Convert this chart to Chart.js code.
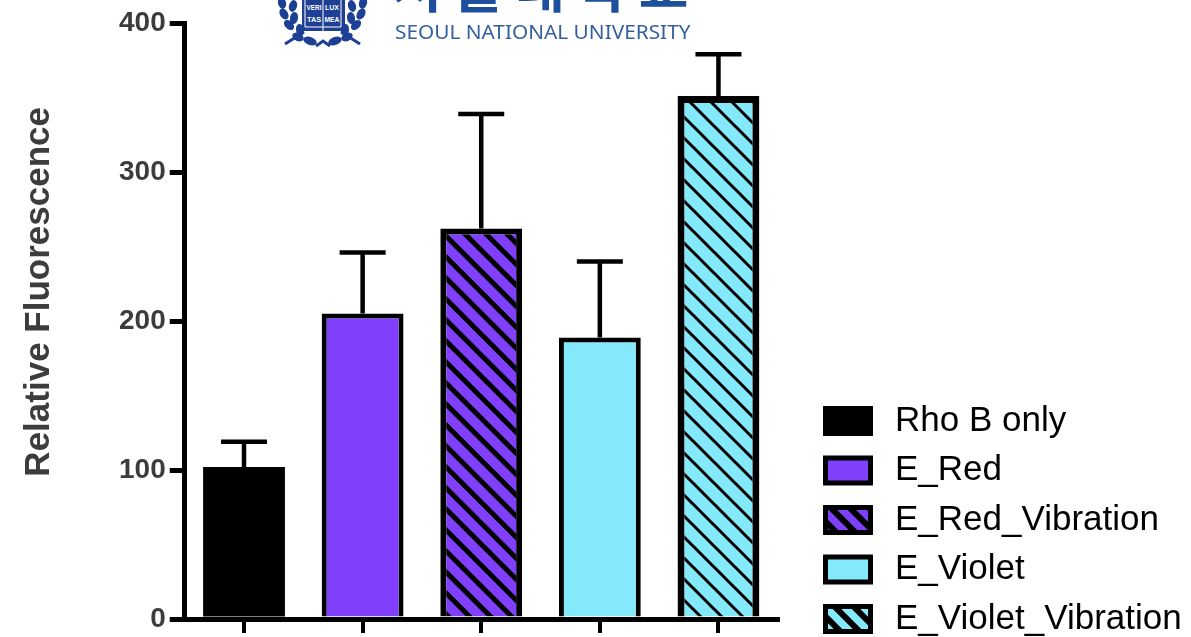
<!DOCTYPE html>
<html>
<head>
<meta charset="utf-8">
<script src="https://cdn.jsdelivr.net/npm/chart.js@4"></script>
<style>
  html, body { margin: 0; padding: 0; background: #fff; overflow: hidden; }
  #wrap { position: relative; width: 1191px; height: 637px; overflow: hidden; }
  #barChart { position: absolute; left: 0; top: 0; }
  #seal { position: absolute; left: 278px; top: 0; }
  #krName { position: absolute; left: 392px; top: -55px; font: 700 54px "Noto Sans CJK KR"; letter-spacing: 12px; color: #1d4f9c; white-space: nowrap; }
  #enName { position: absolute; left: 395px; top: 17px; font: 20.8px "Noto Sans"; color: #35609f; white-space: nowrap; }
</style>
</head>
<body>
<div id="wrap">
  <canvas id="barChart" width="1191" height="637"></canvas>
  <svg id="seal" width="90" height="50" viewBox="0 0 90 50">
    <g fill="#1d3f94">
      <ellipse cx="4" cy="3" rx="4" ry="6" transform="rotate(-15 4 3)"/>
      <ellipse cx="15" cy="6" rx="4" ry="6" transform="rotate(15 15 6)"/>
      <ellipse cx="6" cy="14" rx="4" ry="6" transform="rotate(-30 6 14)"/>
      <ellipse cx="16" cy="18" rx="4" ry="6" transform="rotate(10 16 18)"/>
      <ellipse cx="11" cy="25" rx="4" ry="6" transform="rotate(-45 11 25)"/>
      <ellipse cx="22" cy="30" rx="4" ry="6" transform="rotate(-10 22 30)"/>
      <ellipse cx="20" cy="37" rx="4" ry="6" transform="rotate(-65 20 37)"/>
      <ellipse cx="32" cy="41" rx="4" ry="7" transform="rotate(-70 32 41)"/>
      <ellipse cx="85" cy="3" rx="4" ry="6" transform="rotate(15 85 3)"/>
      <ellipse cx="74" cy="6" rx="4" ry="6" transform="rotate(-15 74 6)"/>
      <ellipse cx="83" cy="14" rx="4" ry="6" transform="rotate(30 83 14)"/>
      <ellipse cx="73" cy="18" rx="4" ry="6" transform="rotate(-10 73 18)"/>
      <ellipse cx="78" cy="25" rx="4" ry="6" transform="rotate(45 78 25)"/>
      <ellipse cx="67" cy="30" rx="4" ry="6" transform="rotate(10 67 30)"/>
      <ellipse cx="69" cy="37" rx="4" ry="6" transform="rotate(65 69 37)"/>
      <ellipse cx="57" cy="41" rx="4" ry="7" transform="rotate(70 57 41)"/>
      <rect x="24" y="0" width="43" height="31"/>
    </g>
    <path d="M7 44 L26 32 M82 44 L63 32" stroke="#1d3f94" stroke-width="3" fill="none"/>
    <path d="M38 46 L45 41 L52 46" stroke="#1d3f94" stroke-width="3" fill="none"/>
    <path d="M27 0 V27 H63 V0 M45 0 V31" stroke="#fff" stroke-width="1" fill="none"/>
    <g font-family="Liberation Sans Narrow, Liberation Sans" font-size="8" font-weight="700" fill="#fff" text-anchor="middle">
      <text x="36" y="10" textLength="15" lengthAdjust="spacingAndGlyphs">VERI</text>
      <text x="54" y="10" textLength="14" lengthAdjust="spacingAndGlyphs">LUX</text>
      <text x="36" y="22" textLength="14" lengthAdjust="spacingAndGlyphs">TAS</text>
      <text x="54" y="22" textLength="15" lengthAdjust="spacingAndGlyphs">MEA</text>
    </g>
  </svg>
  <div id="krName">서울대학교</div>
  <div id="enName">SEOUL NATIONAL UNIVERSITY</div>
</div>
<script>
const categories = ['Rho B only', 'E_Red', 'E_Red_Vibration', 'E_Violet', 'E_Violet_Vibration'];
const means = [102, 205, 262, 189, 351];
const errorTops = [119, 246, 339, 240, 379];
const fillColors = ['#000000', '#7f3ffb', '#7f3ffb', '#84e9fb', '#84e9fb'];
const hatchWidths = [0, 0, 5, 0, 3];
const borderWidths = [0, 5, 6, 5, 7];
const yTicks = [0, 100, 200, 300, 400];

const textColor = '#3c3c3c';

function makeHatch(color, size, lineWidth) {
  const c = document.createElement('canvas');
  c.width = size;
  c.height = size;
  const g = c.getContext('2d');
  g.fillStyle = color;
  g.fillRect(0, 0, size, size);
  g.strokeStyle = '#000';
  g.lineWidth = lineWidth;
  g.beginPath();
  g.moveTo(-size, 0);
  g.lineTo(size, size * 2);
  g.moveTo(0, 0);
  g.lineTo(size, size);
  g.moveTo(0, -size);
  g.lineTo(size * 2, size);
  g.stroke();
  return g.createPattern(c, 'repeat');
}

const barFills = fillColors.map((col, i) => hatchWidths[i] ? makeHatch(col, 21, hatchWidths[i]) : col);
const legendFills = fillColors.map((col, i) => hatchWidths[i] ? makeHatch(col, 19, 6) : col);

const errorBars = {
  id: 'errorBars',
  afterDatasetsDraw(chart) {
    const { ctx, scales } = chart;
    const meta = chart.getDatasetMeta(0);
    ctx.save();
    ctx.strokeStyle = '#000';
    ctx.lineWidth = 4.5;
    errorTops.forEach((top, i) => {
      const x = meta.data[i].x;
      const yTop = scales.y.getPixelForValue(top);
      const yBar = scales.y.getPixelForValue(means[i]);
      ctx.beginPath();
      ctx.moveTo(x, yBar);
      ctx.lineTo(x, yTop);
      ctx.moveTo(x - 23, yTop);
      ctx.lineTo(x + 23, yTop);
      ctx.stroke();
    });
    ctx.restore();
  }
};

// the legend sits low and runs into the bottom edge, so move it after layout
const moveLegend = {
  id: 'moveLegend',
  afterLayout(chart) {
    const legend = chart.legend;
    legend.left = 811;
    legend.right = 1191;
    legend.width = 380;
    legend.bottom = 651;
  }
};

new Chart(document.getElementById('barChart').getContext('2d'), {
  type: 'bar',
  data: {
    labels: categories,
    datasets: [{
      data: means,
      backgroundColor: barFills,
      borderColor: '#000',
      borderWidth: borderWidths,
      barPercentage: 0.69,
      categoryPercentage: 1
    }]
  },
  options: {
    responsive: false,
    animation: false,
    devicePixelRatio: 1,
    layout: { padding: { top: 23, left: 18, bottom: 4, right: 160 } },
    plugins: {
      tooltip: { enabled: false },
      legend: {
        position: 'right',
        align: 'end',
        onClick: null,
        labels: {
          boxWidth: 45,
          boxHeight: 25,
          padding: 14.5,
          color: textColor,
          font: { family: 'Liberation Sans', size: 35 },
          generateLabels: () => categories.map((name, i) => ({
            text: '\u2009' + name,
            fillStyle: legendFills[i],
            strokeStyle: '#000',
            lineWidth: 5,
            datasetIndex: 0,
            index: i
          }))
        }
      }
    },
    scales: {
      x: {
        grid: { offset: false, drawOnChartArea: false, color: '#000', lineWidth: 4, tickLength: 14 },
        border: { display: true, color: '#000', width: 5 },
        ticks: { display: false }
      },
      y: {
        min: 0,
        max: 400,
        afterBuildTicks(scale) { scale.ticks = yTicks.map(v => ({ value: v })); },
        grid: { drawOnChartArea: false, color: '#000', lineWidth: 5, tickLength: 15 },
        border: { color: '#000', width: 5 },
        ticks: { color: textColor, padding: 4, font: { family: 'Liberation Sans', size: 28, weight: 'bold', lineHeight: 0.8 } },
        title: {
          display: true,
          // leading spaces lift the title above the axis centre, as in the figure
          text: '\u00a0\u00a0\u00a0\u00a0\u00a0\u00a0Relative Fluorescence',
          color: textColor,
          padding: { top: 0, bottom: 55 },
          font: { family: 'Liberation Sans', size: 35, weight: 'bold' }
        }
      }
    }
  },
  plugins: [errorBars, moveLegend]
});
</script>
</body>
</html>
